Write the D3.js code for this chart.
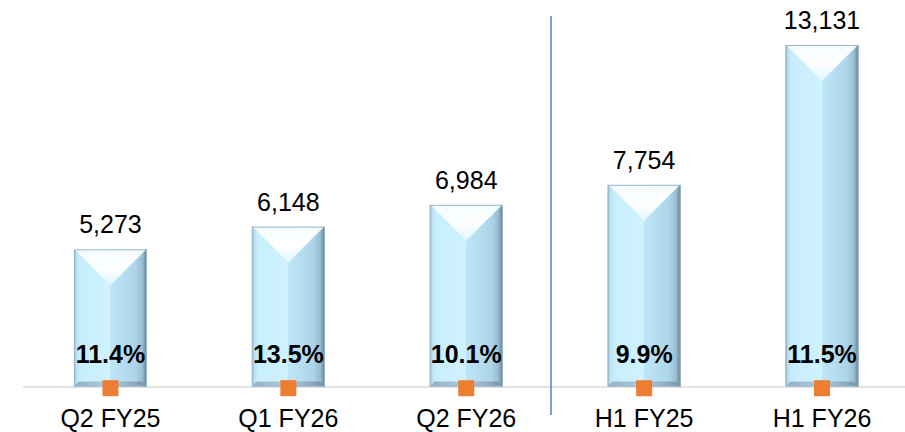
<!DOCTYPE html>
<html>
<head>
<meta charset="utf-8">
<script src="https://cdn.jsdelivr.net/npm/d3@7"></script>
<style>
  html, body { margin: 0; padding: 0; background: #ffffff; }
  svg { display: block; font-family: "Liberation Sans", Arial, sans-serif; }
</style>
</head>
<body>
<svg id="chart" width="905" height="432"></svg>
<script>
// Periods shown on the category axis
const categories = ["Q2 FY25", "Q1 FY26", "Q2 FY26", "H1 FY25", "H1 FY26"];
// Revenue for each period
const revenue = [5273, 6148, 6984, 7754, 13131];
// Margin (%) for each period, plotted on the same value axis
const margin = [11.4, 13.5, 10.1, 9.9, 11.5];

const W = 905, H = 432;
const svg = d3.select("#chart");
const defs = svg.append("defs");

// Value axis shared by both series
const y = d3.scaleLinear().domain([0, 13131]).range([386.5, 45]);

// Category axis
const x = d3.scalePoint().domain(categories).range([21.5, 911]).padding(0.5);
const barW = 73;

// Gradients for the bevelled bars
const body = defs.append("linearGradient").attr("id", "barBody")
  .attr("x1", "0%").attr("x2", "100%").attr("y1", "0%").attr("y2", "0%");
[
  ["0%", "#8fb2c6"], ["3%", "#b8def0"], ["8%", "#c8eefc"], ["49.9%", "#cff2ff"],
  ["50%", "#bfe5f7"], ["85%", "#acd3e8"], ["94%", "#98bcd1"], ["100%", "#5e7888"]
].forEach(([o, c]) => body.append("stop").attr("offset", o).attr("stop-color", c));

const topFace = defs.append("linearGradient").attr("id", "barTop")
  .attr("x1", "0%").attr("x2", "0%").attr("y1", "0%").attr("y2", "100%");
[["0%", "#f4fcff"], ["55%", "#ffffff"], ["100%", "#dff6ff"]]
  .forEach(([o, c]) => topFace.append("stop").attr("offset", o).attr("stop-color", c));

const bottomFace = defs.append("linearGradient").attr("id", "barBottom")
  .attr("x1", "0%").attr("x2", "100%").attr("y1", "0%").attr("y2", "0%");
[["0%", "#86a6ba"], ["50%", "#a9c9dc"], ["100%", "#6f8a9b"]]
  .forEach(([o, c]) => bottomFace.append("stop").attr("offset", o).attr("stop-color", c));

// Baseline
svg.append("line")
  .attr("x1", 23).attr("x2", W)
  .attr("y1", y(0) + 0.5).attr("y2", y(0) + 0.5)
  .attr("stroke", "#d9d9d9").attr("stroke-width", 1.5);

// Divider between quarterly and half-year periods
svg.append("line")
  .attr("x1", 551).attr("x2", 551)
  .attr("y1", 16).attr("y2", 415)
  .attr("stroke", "#4f7fcf").attr("stroke-width", 1.5);

const data = categories.map((c, i) => ({ cat: c, rev: revenue[i], pct: margin[i] }));

const bars = svg.append("g").selectAll("g.bar").data(data).join("g").attr("class", "bar");

bars.each(function (d) {
  const g = d3.select(this);
  const cx = x(d.cat);
  const x0 = cx - barW / 2, x1 = cx + barW / 2;
  const top = y(d.rev), base = y(0);
  const depth = barW / 2 - 1;
  // body
  g.append("rect")
    .attr("x", x0).attr("y", top).attr("width", barW).attr("height", base - top)
    .attr("fill", "url(#barBody)");
  // top bevel
  g.append("path")
    .attr("d", `M${x0 + 1},${top} L${x1 - 1},${top} L${cx},${top + depth} Z`)
    .attr("fill", "url(#barTop)");
  // edge highlights along the bevel
  g.append("path")
    .attr("d", `M${x0 + 2},${top + 1} L${cx},${top + depth} L${x1 - 2},${top + 1}`)
    .attr("fill", "none").attr("stroke", "#e9f9ff").attr("stroke-width", 1);
  // bottom bevel
  g.append("path")
    .attr("d", `M${x0},${base} L${x1},${base} L${x1 - 5},${base - 5} L${x0 + 5},${base - 5} Z`)
    .attr("fill", "url(#barBottom)").attr("opacity", 0.85);
  // outline
  g.append("rect")
    .attr("x", x0 + 0.5).attr("y", top + 0.5).attr("width", barW - 1).attr("height", base - top - 1)
    .attr("fill", "none").attr("stroke", "#9ab8ca").attr("stroke-width", 1);
});

// Revenue labels above bars
svg.append("g").selectAll("text").data(data).join("text")
  .attr("x", d => x(d.cat)).attr("y", d => y(d.rev) - 16)
  .attr("text-anchor", "middle").attr("font-size", 25).attr("fill", "#000")
  .text(d => d3.format(",")(d.rev));

// Margin markers
svg.append("g").selectAll("rect").data(data).join("rect")
  .attr("x", d => x(d.cat) - 8).attr("y", d => y(d.pct) - 6)
  .attr("width", 16).attr("height", 16)
  .attr("fill", "#ed7d31");

// Margin labels
svg.append("g").selectAll("text").data(data).join("text")
  .attr("x", d => x(d.cat)).attr("y", d => y(d.pct) - 23)
  .attr("text-anchor", "middle").attr("font-size", 25).attr("font-weight", "bold")
  .attr("fill", "#000")
  .text(d => d3.format(".1f")(d.pct) + "%");

// Category labels
svg.append("g").selectAll("text").data(categories).join("text")
  .attr("x", d => x(d)).attr("y", 427)
  .attr("text-anchor", "middle").attr("font-size", 25).attr("fill", "#000")
  .text(d => d);
</script>
</body>
</html>
